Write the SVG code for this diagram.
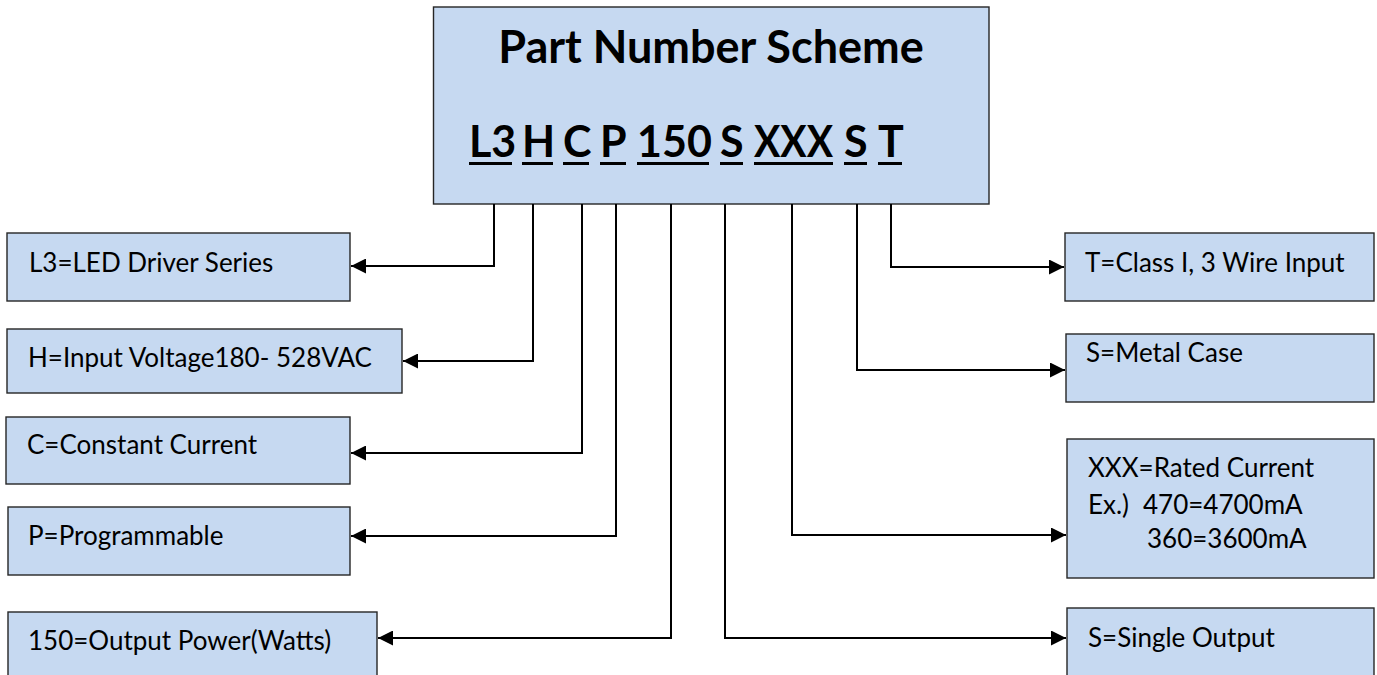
<svg xmlns="http://www.w3.org/2000/svg" width="1377" height="675" viewBox="0 0 1377 675">
  <style>
    .box { fill: #C6D9F1; stroke: #262626; stroke-width: 1.4; }
    .lbl { font-family: Lato, "Open Sans", "Liberation Sans", sans-serif; font-size: 26px; fill: #000; }
    .big { font-family: Lato, "Open Sans", "Liberation Sans", sans-serif; font-size: 43px; font-weight: bold; fill: #000; }
    .title { font-size: 45px; }
    .ul { fill: #000; }
    .conn { fill: none; stroke: #000; stroke-width: 2; marker-end: url(#arr); }
  </style>
  <defs>
    <marker id="arr" markerUnits="userSpaceOnUse" markerWidth="15" markerHeight="15" refX="15" refY="7.5" orient="auto">
      <path d="M0,0 L15,7.5 L0,15 z" fill="#000"/>
    </marker>
  </defs>
  <rect width="1377" height="675" fill="#fff"/>

  <g id="scheme">
    <rect class="box" x="433.5" y="7" width="555.5" height="197"/>
    <text class="big title" x="711" y="63" text-anchor="middle">Part Number Scheme</text>
    <text class="big" x="469" y="157">L3</text>
    <text class="big" x="522" y="157">H</text>
    <text class="big" x="563" y="157">C</text>
    <text class="big" x="600" y="157">P</text>
    <text class="big" x="637" y="157">150</text>
    <text class="big" x="720" y="157">S</text>
    <text class="big" x="754" y="157" textLength="79" lengthAdjust="spacingAndGlyphs">XXX</text>
    <text class="big" x="844" y="157">S</text>
    <text class="big" x="878" y="157">T</text>
    <rect class="ul" x="469" y="162" width="43" height="3"/>
    <rect class="ul" x="522" y="162" width="31" height="3"/>
    <rect class="ul" x="563" y="162" width="26" height="3"/>
    <rect class="ul" x="600" y="162" width="26" height="3"/>
    <rect class="ul" x="637" y="162" width="72" height="3"/>
    <rect class="ul" x="720" y="162" width="23" height="3"/>
    <rect class="ul" x="754" y="162" width="79" height="3"/>
    <rect class="ul" x="844" y="162" width="23" height="3"/>
    <rect class="ul" x="878" y="162" width="24" height="3"/>
  </g>

  <g id="n-l3">
    <rect class="box" x="7" y="233" width="343" height="68"/>
    <text class="lbl" x="29" y="272">L3=LED Driver Series</text>
  </g>
  <g id="n-h">
    <rect class="box" x="7" y="329" width="395" height="64"/>
    <text class="lbl" x="28" y="367">H=Input Voltage180- 528VAC</text>
  </g>
  <g id="n-c">
    <rect class="box" x="6" y="417" width="344" height="67"/>
    <text class="lbl" x="27" y="454">C=Constant Current</text>
  </g>
  <g id="n-p">
    <rect class="box" x="8" y="507" width="342" height="68"/>
    <text class="lbl" x="28" y="545">P=Programmable</text>
  </g>
  <g id="n-150">
    <rect class="box" x="8" y="612" width="369" height="66"/>
    <text class="lbl" x="28" y="650">150=Output Power(Watts)</text>
  </g>

  <g id="n-t">
    <rect class="box" x="1065" y="233" width="309" height="68"/>
    <text class="lbl" x="1085" y="272">T=Class I, 3 Wire Input</text>
  </g>
  <g id="n-s-case">
    <rect class="box" x="1066" y="334" width="308" height="68"/>
    <text class="lbl" x="1086" y="362">S=Metal Case</text>
  </g>
  <g id="n-xxx">
    <rect class="box" x="1067" y="439" width="307" height="139"/>
    <text class="lbl" x="1088" y="477">XXX=Rated Current</text>
    <text class="lbl" x="1088" y="514">Ex.)<tspan x="1143">470=4700mA</tspan></text>
    <text class="lbl" x="1147" y="548">360=3600mA</text>
  </g>
  <g id="n-s-out">
    <rect class="box" x="1067" y="608" width="307" height="70"/>
    <text class="lbl" x="1088" y="647">S=Single Output</text>
  </g>

  <g id="connectors">
    <path class="conn" d="M494,204 V266 H351"/>
    <path class="conn" d="M533,204 V361 H403"/>
    <path class="conn" d="M582,204 V453 H351"/>
    <path class="conn" d="M616,204 V536 H351"/>
    <path class="conn" d="M671,204 V638 H378"/>
    <path class="conn" d="M725,204 V638 H1066"/>
    <path class="conn" d="M792,204 V535 H1066"/>
    <path class="conn" d="M857,204 V370 H1065"/>
    <path class="conn" d="M891,204 V267 H1064"/>
  </g>
</svg>
